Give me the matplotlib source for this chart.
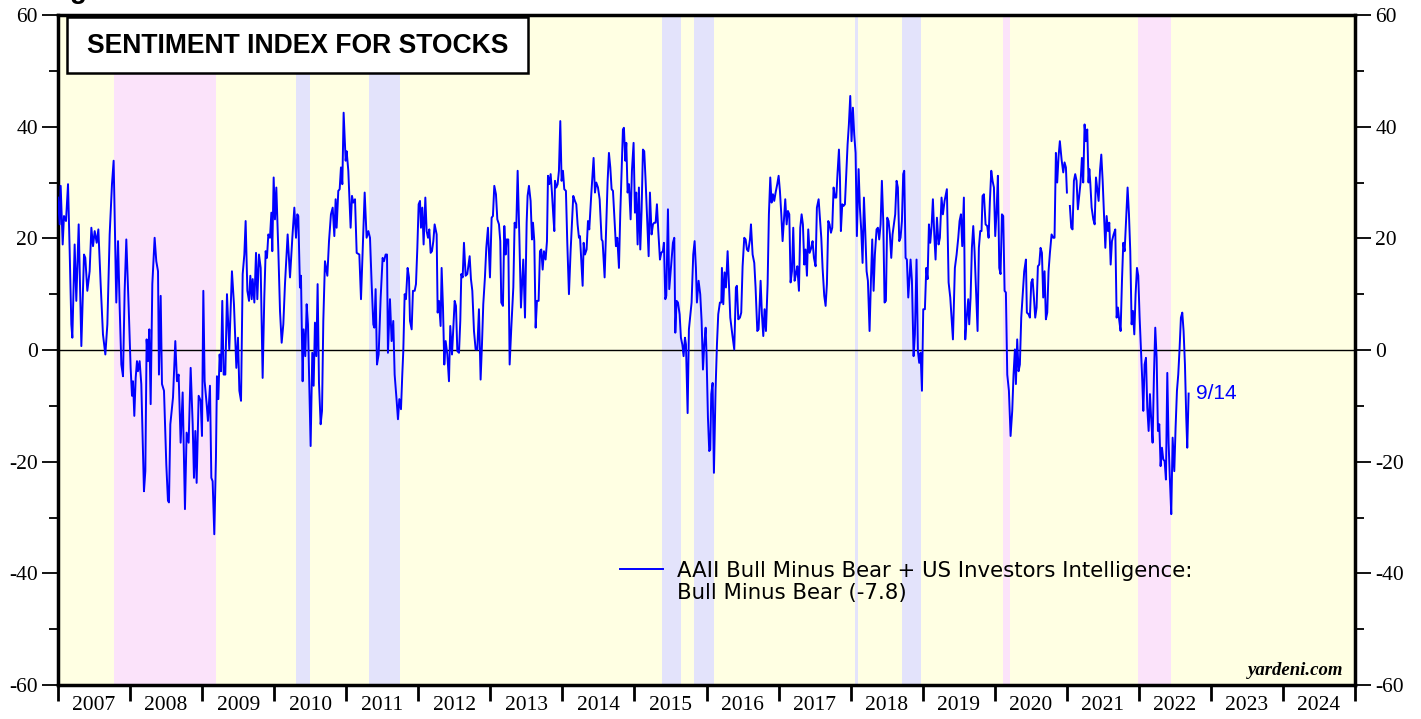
import numpy as np
import matplotlib
matplotlib.use("Agg")
import matplotlib.pyplot as plt
from matplotlib.patches import Rectangle
from matplotlib.lines import Line2D

plt.rcParams["axes.unicode_minus"] = False

# weekly sentiment (bull minus bear) as (decimal year, value)
s2007_2009 = [
    (2007.000, 27.3), (2007.023, 22.5), (2007.037, 29.4), (2007.065, 18.9), (2007.083, 24.0),
    (2007.111, 23.1), (2007.139, 29.7), (2007.162, 17.7), (2007.185, 4.6), (2007.199, 2.2),
    (2007.231, 18.9), (2007.254, 8.8), (2007.287, 22.5), (2007.324, 0.7), (2007.361, 17.1),
    (2007.379, 16.5), (2007.407, 10.6), (2007.439, 14.1), (2007.463, 21.9), (2007.486, 18.6),
    (2007.509, 21.3), (2007.537, 19.2), (2007.560, 21.6), (2007.592, 11.8), (2007.624, 2.8),
    (2007.657, -0.8), (2007.685, 4.6), (2007.717, 20.7), (2007.749, 29.7), (2007.772, 33.9),
    (2007.809, 8.5), (2007.833, 19.5), (2007.856, 7.6), (2007.879, -2.6), (2007.902, -4.7),
    (2007.925, 10.6), (2007.948, 19.8), (2007.981, 7.6), (2008.008, -3.2), (2008.027, -8.2),
    (2008.041, -5.6), (2008.059, -11.8), (2008.078, -5.0), (2008.096, -2.0), (2008.110, -3.8),
    (2008.133, -2.0), (2008.156, -6.1), (2008.193, -25.3), (2008.212, -21.7), (2008.230, 1.9),
    (2008.249, -2.0), (2008.267, 3.7), (2008.286, -9.7), (2008.309, 11.8), (2008.341, 20.1),
    (2008.364, 15.9), (2008.388, 14.1), (2008.401, -4.4), (2008.425, 9.7), (2008.443, -6.1),
    (2008.471, -7.3), (2008.503, -20.5), (2008.526, -27.0), (2008.540, -27.3), (2008.559, -13.3),
    (2008.596, -8.5), (2008.628, 1.6), (2008.651, -5.6), (2008.674, -4.4), (2008.702, -16.6),
    (2008.730, -7.6), (2008.762, -28.5), (2008.785, -14.8), (2008.813, -16.6), (2008.841, -3.2),
    (2008.869, -13.3), (2008.887, -22.9), (2008.906, -14.5), (2008.924, -23.8), (2008.952, -8.2),
    (2008.980, -9.1), (2008.998, -15.4), (2009.017, 10.6), (2009.035, -5.6), (2009.063, -9.7),
    (2009.081, -12.7), (2009.109, -6.4), (2009.128, -22.9), (2009.146, -23.5), (2009.169, -33.0),
    (2009.192, -19.3), (2009.206, -4.7), (2009.225, -8.8), (2009.243, -0.8), (2009.262, -3.8),
    (2009.280, 8.8), (2009.299, -4.4), (2009.322, -4.4), (2009.345, 10.0), (2009.377, 0.1),
    (2009.414, 14.1), (2009.442, 8.2), (2009.475, -3.2), (2009.498, 2.2),
]

s2009_2011 = [
    (2009.517, -7.3), (2009.540, -9.1), (2009.563, 13.6), (2009.586, 17.1), (2009.604, 23.1),
    (2009.628, 10.6), (2009.651, 8.8), (2009.669, 13.3), (2009.688, 9.1), (2009.702, 12.7),
    (2009.725, 8.5), (2009.748, 17.4), (2009.766, 9.1), (2009.789, 17.1), (2009.813, 14.7),
    (2009.840, -5.0), (2009.863, 9.4), (2009.882, 17.7), (2009.900, 16.5), (2009.919, 20.7),
    (2009.942, 20.1), (2009.961, 24.6), (2009.974, 17.7), (2009.993, 30.9), (2010.011, 23.4),
    (2010.030, 29.1), (2010.058, 17.7), (2010.081, 7.0), (2010.104, 1.3), (2010.127, 4.6),
    (2010.150, 11.8), (2010.187, 20.7), (2010.220, 13.0), (2010.252, 20.1), (2010.280, 25.5),
    (2010.303, 20.1), (2010.321, 24.3), (2010.335, 24.0), (2010.358, 11.2), (2010.372, 13.3),
    (2010.395, -5.6), (2010.409, 3.7), (2010.432, -1.1), (2010.451, 8.2), (2010.469, 4.6),
    (2010.506, -17.2), (2010.529, -0.5), (2010.548, -6.4), (2010.566, 4.9), (2010.585, -1.1),
    (2010.603, 11.8), (2010.622, -5.9), (2010.645, -13.3), (2010.664, -10.9), (2010.682, 5.2),
    (2010.705, 15.9), (2010.738, 13.3), (2010.761, 19.5), (2010.788, 24.3), (2010.812, 25.5),
    (2010.835, 20.4), (2010.853, 27.0), (2010.867, 21.9), (2010.890, 28.5), (2010.909, 28.8),
    (2010.927, 32.7), (2010.946, 29.7), (2010.964, 42.5), (2010.992, 33.9), (2011.006, 35.6),
    (2011.029, 32.1), (2011.061, 21.9), (2011.080, 27.6), (2011.098, 26.4), (2011.122, 27.0),
    (2011.145, 17.4), (2011.182, 17.1), (2011.205, 9.1), (2011.233, 19.5), (2011.256, 28.2),
    (2011.283, 20.1), (2011.307, 21.3), (2011.330, 20.1), (2011.353, 11.8), (2011.376, 4.6),
    (2011.390, 4.0), (2011.408, 10.9), (2011.427, -2.6), (2011.450, -0.8), (2011.478, 9.4),
    (2011.505, 16.5), (2011.524, 15.9), (2011.547, 17.1), (2011.566, 17.1), (2011.579, -0.5),
    (2011.607, 9.1), (2011.630, 1.6), (2011.653, 5.2), (2011.672, -4.4), (2011.700, -9.1),
    (2011.718, -12.4), (2011.737, -8.8), (2011.760, -10.6), (2011.778, -4.4), (2011.792, -0.2),
    (2011.811, 10.0), (2011.829, 9.1), (2011.852, 14.7), (2011.871, 13.0), (2011.885, 5.2),
]

s2011_2014 = [
    (2011.908, 3.7), (2011.926, 10.6), (2011.950, 10.6), (2011.968, 11.8), (2011.987, 18.3),
    (2012.005, 26.1), (2012.024, 26.7), (2012.037, 21.9), (2012.056, 25.5), (2012.074, 18.9),
    (2012.098, 27.3), (2012.116, 21.3), (2012.135, 20.1), (2012.153, 21.6), (2012.172, 17.4),
    (2012.190, 17.7), (2012.209, 19.5), (2012.227, 22.5), (2012.255, 20.7), (2012.269, 6.7),
    (2012.287, 8.8), (2012.310, 4.3), (2012.324, 14.7), (2012.343, 7.6), (2012.361, -2.6),
    (2012.380, 1.6), (2012.403, -0.8), (2012.426, -5.6), (2012.444, 4.3), (2012.468, -0.8),
    (2012.486, 4.0), (2012.505, 8.8), (2012.523, 7.9), (2012.542, -0.2), (2012.565, -0.5),
    (2012.583, 5.2), (2012.597, 13.6), (2012.616, 13.0), (2012.634, 19.2), (2012.657, 13.3),
    (2012.680, 13.6), (2012.713, 16.8), (2012.731, 12.7), (2012.750, 10.6), (2012.773, 3.4),
    (2012.796, 0.1), (2012.819, 0.1), (2012.842, 7.3), (2012.865, -5.3), (2012.884, 1.0),
    (2012.902, 8.2), (2012.925, 13.0), (2012.944, 18.3), (2012.967, 21.9), (2012.995, 13.0),
    (2013.018, 23.7), (2013.036, 24.0), (2013.055, 29.4), (2013.078, 27.9), (2013.097, 23.4),
    (2013.120, 22.5), (2013.138, 19.5), (2013.152, 8.5), (2013.175, 7.9), (2013.194, 22.2),
    (2013.212, 17.1), (2013.226, 19.8), (2013.249, 19.8), (2013.268, -2.6), (2013.291, 4.0),
    (2013.319, 11.2), (2013.337, 22.8), (2013.360, 21.9), (2013.379, 32.1), (2013.402, 20.7),
    (2013.425, 7.6), (2013.457, 16.2), (2013.481, 5.8), (2013.504, 22.8), (2013.517, 27.6),
    (2013.536, 29.4), (2013.559, 26.7), (2013.578, 19.8), (2013.592, 22.8), (2013.610, 19.5),
    (2013.629, 4.0), (2013.647, 8.8), (2013.670, 8.8), (2013.689, 17.7), (2013.707, 18.0),
    (2013.726, 14.4), (2013.744, 17.7), (2013.767, 16.2), (2013.786, 19.5), (2013.800, 31.2),
    (2013.818, 29.7), (2013.837, 31.5), (2013.855, 28.2), (2013.874, 24.0), (2013.888, 21.3),
    (2013.897, 30.3), (2013.915, 29.1), (2013.934, 29.7), (2013.952, 32.1), (2013.971, 41.0),
    (2013.989, 30.3), (2014.008, 32.1), (2014.026, 28.8), (2014.049, 28.5), (2014.068, 19.2),
    (2014.091, 10.0), (2014.114, 17.7), (2014.133, 22.8), (2014.151, 27.6), (2014.174, 26.7),
    (2014.193, 26.1), (2014.211, 22.5), (2014.230, 20.1),
]

s2014_2016 = [
    (2014.244, 20.4), (2014.267, 14.7), (2014.281, 11.5), (2014.295, 19.2), (2014.313, 17.1),
    (2014.336, 18.0), (2014.355, 23.1), (2014.373, 21.6), (2014.401, 27.9), (2014.433, 34.4),
    (2014.452, 28.2), (2014.470, 30.0), (2014.494, 29.1), (2014.517, 27.0), (2014.544, 19.8),
    (2014.558, 19.5), (2014.586, 13.0), (2014.609, 22.5), (2014.628, 30.3), (2014.646, 35.3),
    (2014.665, 32.7), (2014.683, 28.8), (2014.702, 28.5), (2014.725, 23.1), (2014.743, 18.6),
    (2014.762, 20.1), (2014.785, 14.7), (2014.803, 24.3), (2014.822, 32.1), (2014.840, 39.5),
    (2014.854, 39.8), (2014.873, 33.9), (2014.887, 37.1), (2014.905, 28.2), (2014.924, 29.7),
    (2014.947, 23.4), (2014.965, 32.1), (2014.988, 37.1), (2015.007, 24.6), (2015.025, 28.2),
    (2015.044, 18.9), (2015.062, 29.1), (2015.081, 18.0), (2015.099, 24.9), (2015.118, 35.9),
    (2015.136, 35.6), (2015.155, 30.3), (2015.178, 23.1), (2015.197, 16.8), (2015.215, 28.2),
    (2015.238, 20.7), (2015.257, 22.5), (2015.275, 22.8), (2015.294, 22.8), (2015.312, 26.1),
    (2015.331, 21.3), (2015.354, 16.2), (2015.372, 17.4), (2015.395, 17.7), (2015.409, 19.2),
    (2015.428, 9.1), (2015.442, 9.7), (2015.465, 25.2), (2015.483, 10.9), (2015.506, 14.7),
    (2015.534, 19.2), (2015.553, 20.1), (2015.567, 3.1), (2015.585, 8.8), (2015.604, 8.5),
    (2015.627, 6.4), (2015.645, 2.2), (2015.664, 1.0), (2015.682, -1.1), (2015.701, 2.2),
    (2015.715, 1.0), (2015.738, -11.3), (2015.756, 3.7), (2015.775, 6.1), (2015.793, 8.5),
    (2015.816, 17.1), (2015.835, 19.5), (2015.853, 14.7), (2015.867, 8.5), (2015.890, 12.4),
    (2015.913, 10.0), (2015.932, 5.2), (2015.951, -3.5), (2015.969, 1.0), (2015.988, 4.0),
    (2016.001, -1.1), (2016.020, -12.1), (2016.038, -18.1), (2016.052, -17.8), (2016.066, -7.9),
    (2016.085, -5.9), (2016.103, -22.0), (2016.126, -7.0), (2016.145, 1.0), (2016.163, 6.4),
    (2016.186, 8.5), (2016.205, 8.5), (2016.214, 14.7), (2016.233, 8.2), (2016.251, 13.9),
    (2016.270, 11.2), (2016.293, 17.7), (2016.311, 12.1), (2016.330, 5.8), (2016.358, 2.8),
    (2016.385, 0.1), (2016.408, 11.2), (2016.422, 11.5), (2016.441, 5.5), (2016.464, 5.8),
    (2016.482, 6.7), (2016.501, 15.0), (2016.524, 20.1), (2016.543, 19.8), (2016.561, 18.0),
    (2016.580, 17.7), (2016.603, 19.8),
]

s2016_2018 = [
    (2016.617, 22.5), (2016.640, 17.1), (2016.663, 15.6), (2016.681, 11.2), (2016.705, 3.4),
    (2016.723, 3.7), (2016.751, 12.4), (2016.769, 6.4), (2016.788, 2.5), (2016.806, 7.3),
    (2016.825, 3.4), (2016.848, 11.8), (2016.866, 24.3), (2016.885, 30.9), (2016.903, 26.4),
    (2016.922, 27.9), (2016.940, 26.7), (2016.959, 28.2), (2016.982, 29.7), (2017.001, 31.2),
    (2017.019, 28.5), (2017.038, 24.3), (2017.056, 19.5), (2017.079, 24.3), (2017.093, 27.0),
    (2017.112, 22.5), (2017.130, 24.9), (2017.149, 24.3), (2017.167, 12.1), (2017.186, 14.1),
    (2017.204, 21.9), (2017.223, 12.4), (2017.241, 13.6), (2017.260, 15.0), (2017.283, 10.6),
    (2017.301, 21.9), (2017.320, 24.3), (2017.338, 22.5), (2017.357, 15.3), (2017.375, 18.0),
    (2017.394, 13.3), (2017.412, 21.6), (2017.431, 17.4), (2017.454, 18.3), (2017.472, 19.5),
    (2017.491, 16.5), (2017.514, 15.0), (2017.532, 25.5), (2017.556, 27.0), (2017.574, 23.7),
    (2017.593, 20.1), (2017.611, 14.7), (2017.634, 9.7), (2017.653, 7.9), (2017.671, 11.8),
    (2017.690, 23.1), (2017.708, 22.5), (2017.727, 21.0), (2017.745, 21.9), (2017.764, 29.1),
    (2017.782, 27.3), (2017.801, 27.3), (2017.819, 31.8), (2017.838, 35.9), (2017.852, 30.9),
    (2017.865, 21.3), (2017.884, 26.1), (2017.902, 25.8), (2017.921, 26.1), (2017.939, 31.5),
    (2017.958, 36.8), (2017.976, 40.4), (2017.995, 45.5), (2018.013, 37.4), (2018.032, 43.4),
    (2018.050, 38.6), (2018.069, 35.3), (2018.087, 20.4), (2018.111, 32.4), (2018.129, 25.5),
    (2018.148, 21.3), (2018.166, 15.6), (2018.185, 27.3), (2018.203, 21.3), (2018.222, 14.1),
    (2018.240, 12.4), (2018.263, 3.4), (2018.282, 12.4), (2018.300, 19.8), (2018.319, 10.6),
    (2018.337, 17.1), (2018.360, 21.6), (2018.379, 21.9), (2018.397, 19.8), (2018.416, 22.5),
    (2018.434, 30.3), (2018.453, 23.1), (2018.471, 8.5), (2018.490, 8.8), (2018.508, 23.7),
    (2018.527, 23.1), (2018.545, 20.7), (2018.564, 16.5), (2018.582, 20.7), (2018.601, 22.5),
    (2018.619, 24.3), (2018.638, 30.3), (2018.656, 29.1), (2018.675, 19.5), (2018.693, 20.1),
    (2018.712, 23.1), (2018.730, 31.5), (2018.744, 32.1), (2018.763, 16.5), (2018.781, 16.2),
    (2018.800, 9.4), (2018.818, 13.0), (2018.832, 16.2), (2018.851, 12.4), (2018.874, -1.1),
    (2018.892, 2.8), (2018.915, 16.2), (2018.934, -0.2), (2018.952, -2.3),
]

s2019_2021 = [
    (2018.971, -0.5), (2018.990, -7.3), (2019.008, 7.3), (2019.031, 7.3), (2019.050, 14.7),
    (2019.068, 12.7), (2019.087, 22.5), (2019.105, 19.2), (2019.124, 22.2), (2019.142, 27.0),
    (2019.161, 20.7), (2019.179, 16.2), (2019.198, 23.7), (2019.221, 18.9), (2019.239, 20.1),
    (2019.262, 27.3), (2019.281, 24.3), (2019.304, 26.7), (2019.336, 28.8), (2019.360, 12.1),
    (2019.383, 9.4), (2019.401, 5.8), (2019.420, 1.9), (2019.447, 14.7), (2019.471, 17.1),
    (2019.494, 20.1), (2019.512, 23.1), (2019.531, 24.3), (2019.549, 18.6), (2019.572, 27.3),
    (2019.591, 1.9), (2019.609, 5.5), (2019.632, 9.1), (2019.646, 4.6), (2019.665, 9.4),
    (2019.683, 18.3), (2019.702, 22.2), (2019.720, 17.7), (2019.739, 11.2), (2019.762, 3.4),
    (2019.780, 18.3), (2019.799, 21.3), (2019.817, 21.3), (2019.831, 27.6), (2019.850, 27.9),
    (2019.873, 22.5), (2019.896, 22.2), (2019.915, 20.1), (2019.933, 26.7), (2019.952, 32.1),
    (2019.970, 30.3), (2019.989, 29.1), (2020.007, 20.4), (2020.026, 24.9), (2020.044, 31.2),
    (2020.063, 14.7), (2020.081, 13.6), (2020.100, 24.3), (2020.118, 24.0), (2020.137, 10.6),
    (2020.155, 10.3), (2020.174, -4.4), (2020.197, -7.3), (2020.220, -15.4), (2020.243, -10.9),
    (2020.261, -4.4), (2020.280, 0.1), (2020.294, -6.1), (2020.312, 1.9), (2020.331, -3.8),
    (2020.349, -2.6), (2020.368, 5.8), (2020.386, 9.4), (2020.409, 14.1), (2020.433, 16.2),
    (2020.446, 6.7), (2020.470, 6.4), (2020.488, 5.8), (2020.507, 12.1), (2020.525, 12.7),
    (2020.544, 9.4), (2020.562, 5.8), (2020.581, 7.6), (2020.599, 15.0), (2020.618, 15.3),
    (2020.636, 18.3), (2020.655, 17.4), (2020.673, 9.4), (2020.692, 14.1), (2020.710, 5.5),
    (2020.729, 6.7), (2020.747, 14.1), (2020.766, 17.4), (2020.789, 20.7), (2020.812, 20.1),
    (2020.830, 20.1), (2020.849, 35.3), (2020.867, 30.0), (2020.886, 34.7), (2020.904, 37.4),
    (2020.928, 34.1), (2020.951, 31.8), (2020.969, 33.6), (2020.988, 32.7), (2021.002, 28.2),
    (2021.020, np.nan),  # missing week in the source series
    (2021.043, 25.8), (2021.062, 21.9), (2021.080, 21.6), (2021.099, 30.3), (2021.117, 31.5),
    (2021.136, 30.3), (2021.154, 25.2), (2021.173, 27.6), (2021.191, 30.0), (2021.210, 34.4),
    (2021.228, 30.0), (2021.247, 40.4), (2021.265, 37.4), (2021.284, 39.5), (2021.302, 30.0),
]

s2021_2022 = [
    (2021.313, 32.4), (2021.326, 30.0), (2021.345, 25.5), (2021.368, 23.4), (2021.387, 22.5),
    (2021.405, 30.9), (2021.424, 28.8), (2021.442, 26.7), (2021.461, 32.1), (2021.479, 35.0),
    (2021.498, 30.3), (2021.516, 24.3), (2021.535, 18.3), (2021.553, 24.0), (2021.572, 21.3),
    (2021.590, 22.8), (2021.609, 15.3), (2021.627, 19.5), (2021.650, 20.7), (2021.673, 21.6),
    (2021.692, 5.8), (2021.710, 7.6), (2021.729, 5.2), (2021.747, 3.4), (2021.766, 12.4),
    (2021.784, 19.2), (2021.803, 17.7), (2021.826, 24.3), (2021.844, 29.1), (2021.863, 24.3),
    (2021.881, 17.7), (2021.900, 4.6), (2021.918, 7.0), (2021.937, 2.8), (2021.955, 10.0),
    (2021.974, 14.7), (2021.992, 13.3), (2022.011, 5.8), (2022.029, 0.1), (2022.048, -5.6),
    (2022.062, -10.9), (2022.080, -2.6), (2022.099, -1.4), (2022.117, -10.3), (2022.136, -14.5),
    (2022.154, -7.9), (2022.173, -12.7), (2022.191, -16.6), (2022.210, -4.4), (2022.228, 4.0),
    (2022.247, -1.4), (2022.265, -14.5), (2022.284, -13.3), (2022.302, -20.8), (2022.321, -17.5),
    (2022.339, -19.6), (2022.358, -19.9), (2022.376, -23.2), (2022.395, -4.1), (2022.413, -16.6),
    (2022.432, -23.5), (2022.450, -29.4), (2022.469, -15.7), (2022.492, -21.7), (2022.510, -13.9),
    (2022.529, -7.3), (2022.547, -4.4), (2022.566, 0.4), (2022.584, 5.8), (2022.603, 6.7),
    (2022.621, 3.4), (2022.640, -2.6), (2022.658, -12.1), (2022.672, -17.5), (2022.691, -7.8),
]

# shaded market episodes: (start, end)
bear_markets = [(2007.777, 2009.188), (2020.113, 2020.211), (2021.992, 2022.446)]
corrections = [(2010.303, 2010.497), (2011.316, 2011.746), (2015.382, 2015.645),
               (2015.826, 2016.103), (2018.060, 2018.101), (2018.712, 2018.976)]

year_labels = [str(y) for y in range(2007, 2025)]
last_label = "9/14"
legend_line1 = "AAII Bull Minus Bear + US Investors Intelligence:"
legend_line2 = "Bull Minus Bear (-7.8)"

YELLOW = "#FFFFE3"
PINK = "#FBE3FA"
BLUE = "#E3E3FB"
LINE = "#0000FF"
SERIF = "Liberation Serif"
SANS = "Liberation Sans"

data = np.array(s2007_2009 + s2009_2011 + s2011_2014 + s2014_2016
                + s2016_2018 + s2019_2021 + s2021_2022)
years, values = data[:, 0], data[:, 1]

fig = plt.figure(figsize=(14.21, 7.19), dpi=100)
ax = fig.add_axes([58 / 1421, 1 - 685 / 719, 1297 / 1421, 670 / 719])
ax.set_facecolor(YELLOW)

for a, b in bear_markets:
    ax.axvspan(a, b, color=PINK, lw=0, zorder=0)
for a, b in corrections:
    ax.axvspan(a, b, color=BLUE, lw=0, zorder=0)

ax.axhline(0, color="black", lw=1.0, zorder=1)
ax.plot(years, values, color=LINE, lw=1.4, zorder=3)

ax.set_xlim(2007, 2025)
ax.set_ylim(-60, 60)

# y axis: labels on both sides, serif numbers
ax.set_yticks(np.arange(-60, 61, 20))
ax.set_yticks(np.arange(-50, 60, 20), minor=True)
ax.tick_params(axis="y", which="major", length=11.5, width=1.3, direction="out",
               left=True, right=True, labelleft=True, labelright=True,
               labelsize=15.5, pad=3)
ax.tick_params(axis="y", which="minor", length=6.5, width=1.3, direction="out",
               left=True, right=True)

# x axis: ticks on year boundaries, labels centred inside each year
ax.set_xticks(np.arange(2007, 2026))
ax.set_xticklabels([])
ax.set_xticks(np.arange(2007.5, 2025, 1.0), minor=True)
ax.set_xticklabels(year_labels, minor=True)
ax.tick_params(axis="x", which="major", length=11.5, width=2.0, direction="out")
ax.tick_params(axis="x", which="minor", length=0, labelsize=15.5, pad=8)

for lab in ax.get_xticklabels(minor=True) + ax.yaxis.get_majorticklabels():
    lab.set_fontfamily(SERIF)

for sp in ax.spines.values():
    sp.set_linewidth(2.5)

# title box
ax.add_patch(Rectangle((0.0069, 0.9134), 0.3555, 0.0836, transform=ax.transAxes,
                       facecolor="white", edgecolor="black", lw=1.8, zorder=5))
ax.text(0.1847, 0.9540, "SENTIMENT INDEX FOR STOCKS", transform=ax.transAxes,
        ha="center", va="center", fontsize=19.1, fontweight="bold", family=SANS, zorder=6)

# legend
ax.add_line(Line2D([0.4333, 0.4665], [0.1731, 0.1731], transform=ax.transAxes,
                   color=LINE, lw=1.4))
ax.text(0.4773, 0.1705, legend_line1, transform=ax.transAxes, ha="left", va="center",
        fontsize=15.3, family="DejaVu Sans")
ax.text(0.4773, 0.1376, legend_line2, transform=ax.transAxes, ha="left", va="center",
        fontsize=15.3, family="DejaVu Sans")

# end-point date label
ax.annotate(last_label, xy=(years[-1], values[-1]), xytext=(5, 0),
            textcoords="offset points", ha="left", va="center",
            fontsize=15, color=LINE, family=SANS)

ax.text(0.9908, 0.015, "yardeni.com", transform=ax.transAxes, ha="right", va="baseline",
        fontsize=13.5, fontweight="bold", fontstyle="italic", family=SERIF)

# clipped header text at the very top of the page
fig.text(0.049, 1 + 1.5 / 719, "g", ha="left", va="baseline", fontsize=20,
         fontweight="bold", family=SANS)

fig.savefig("out.png", dpi=100)
